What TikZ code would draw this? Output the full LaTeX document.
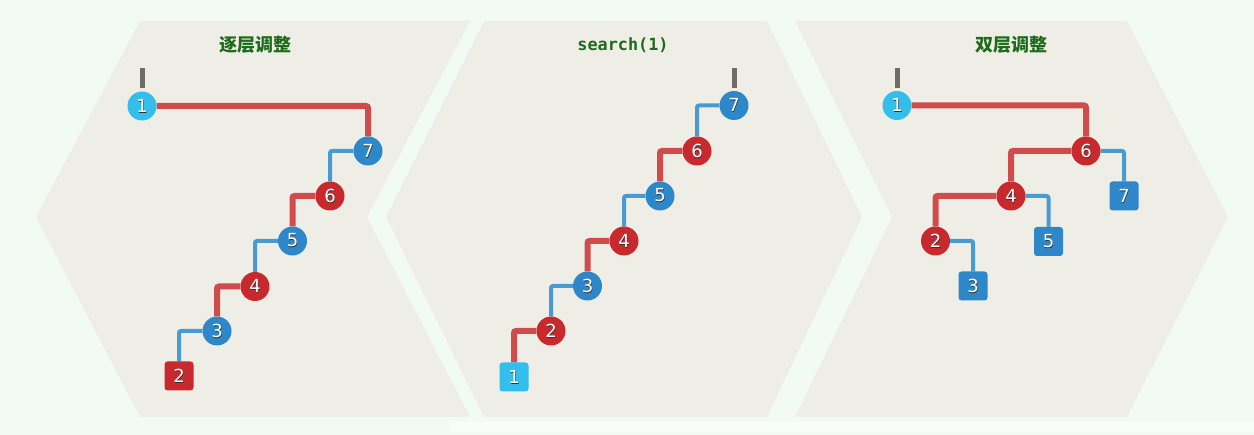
\documentclass[tikz,border=0pt]{standalone}
\usepackage{fontspec}
\setmainfont{DejaVu Sans}
\setmonofont{DejaVu Sans Mono}
\newfontfamily\cjk{Noto Sans CJK SC}
\usepackage{tikz}
\usetikzlibrary{positioning}
\usetikzlibrary{calc}

\definecolor{mint}{HTML}{F2FAF4}
\definecolor{panel}{HTML}{EFEEE6}
\definecolor{nred}{HTML}{C8292D}
\definecolor{nblue}{HTML}{2E87C8}
\definecolor{nsky}{HTML}{33BEEB}
\definecolor{lred}{HTML}{D04B4B}
\definecolor{lblue}{HTML}{4A9AD2}
\definecolor{stubgray}{HTML}{6D6D69}
\definecolor{titlegreen}{HTML}{1E6B1B}
\definecolor{digitshade}{HTML}{333333}

\pgfdeclarelayer{bg}
\pgfdeclarelayer{links}
\pgfsetlayers{bg,links,main}

% white digit with a dark shadow
\newcommand{\dig}[1]{\makebox[0pt][l]{\hspace{0.6pt}\raisebox{-1pt}{\color{digitshade}#1}}{\color{white}#1}}

\tikzset{
  nd/.style={inner sep=0pt, minimum size=29pt, font=\fontsize{18}{18}\selectfont},
  redc/.style={nd, circle, fill=nred},
  bluec/.style={nd, circle, fill=nblue},
  skyc/.style={nd, circle, fill=nsky},
  reds/.style={nd, rectangle, rounded corners=3pt, fill=nred},
  blues/.style={nd, rectangle, rounded corners=3pt, fill=nblue},
  skys/.style={nd, rectangle, rounded corners=3pt, fill=nsky},
  redlink/.style={draw=lred, line width=6pt, rounded corners=2pt},
  bluelink/.style={draw=lblue, line width=4pt, rounded corners=2pt},
  stub/.style={draw=stubgray, line width=5pt},
  ttl/.style={text=titlegreen, font=\fontsize{18}{18}\selectfont},
  pan/.style={fill=panel}
}

\begin{document}
\begin{tikzpicture}[x=1pt,y=-1pt]
  \useasboundingbox (0,0) rectangle (1254,435);

 \begin{pgfonlayer}{bg}
    \fill[mint] (0,0) rectangle (1254,435);
    \fill[white,opacity=0.6] (450,422) rectangle (1254,431);
    %panels
    \fill[pan] (140,21) -- (470,21) -- (367,217) -- (470,417) -- (140,417) -- (36,217) -- cycle;
    \fill[pan] (484,21) -- (767,21) -- (862,217) -- (767,417) -- (484,417) -- (386,217) -- cycle;
    \fill[pan] (795,21) -- (1127,21) -- (1228,217) -- (1127,417) -- (795,417) -- (892,217) -- cycle;
 \end{pgfonlayer}

  %titles
  \node[ttl] (t1) at (255,45) {\cjk\bfseries 逐层调整};
  \node[ttl] (t2) at (623,45) {\fontsize{16.8}{17}\selectfont\ttfamily\bfseries search(1)};
  \node[ttl] (t3) at (1011,45) {\cjk\bfseries 双层调整};

  %left: one level at a time
    \foreach \num/\x/\y/\s in {1/142/106/skyc,7/368/151/bluec,6/330/196/redc,5/292.5/241/bluec,4/255/286.5/redc,3/217/331/bluec,2/179/376/reds}{
        \node[\s] (p1n\num) at (\x,\y) {\dig{\num}};
    }

  %middle: search(1)
    \foreach \num/\x/\y/\s in {7/734/105.5/bluec,6/697/151/redc,5/660/196/bluec,4/624/241/redc,3/587.5/286/bluec,2/551/331/redc,1/514/377/skys}{
        \node[\s] (p2n\num) at (\x,\y) {\dig{\num}};
    }

  %right: two levels at a time
    \foreach \num/\x/\y/\s in {1/897/105.5/skyc,6/1086/151/redc,4/1011/196/redc,7/1124/196/blues,2/935.5/241/redc,5/1048.5/241.5/blues,3/973/286/blues}{
        \node[\s] (p3n\num) at (\x,\y) {\dig{\num}};
    }

 \begin{pgfonlayer}{links}
    \foreach \a/\b/\s in {1/7/redlink,7/6/bluelink,6/5/redlink,5/4/bluelink,4/3/redlink,3/2/bluelink}{
        \draw[\s] (p1n\a) -| (p1n\b);
    }
    \foreach \a/\b/\s in {7/6/bluelink,6/5/redlink,5/4/bluelink,4/3/redlink,3/2/bluelink,2/1/redlink}{
        \draw[\s] (p2n\a) -| (p2n\b);
    }
    \foreach \a/\b/\s in {1/6/redlink,6/4/redlink,6/7/bluelink,4/2/redlink,4/5/bluelink,2/3/bluelink}{
        \draw[\s] (p3n\a) -| (p3n\b);
    }
    %root stubs
    \draw[stub] ($(p1n1.north)+(0,-3)$) -- ++(0,-20);
    \draw[stub] ($(p2n7.north)+(0,-3)$) -- ++(0,-20);
    \draw[stub] ($(p3n1.north)+(0,-3)$) -- ++(0,-20);
 \end{pgfonlayer}

\end{tikzpicture}
\end{document}
